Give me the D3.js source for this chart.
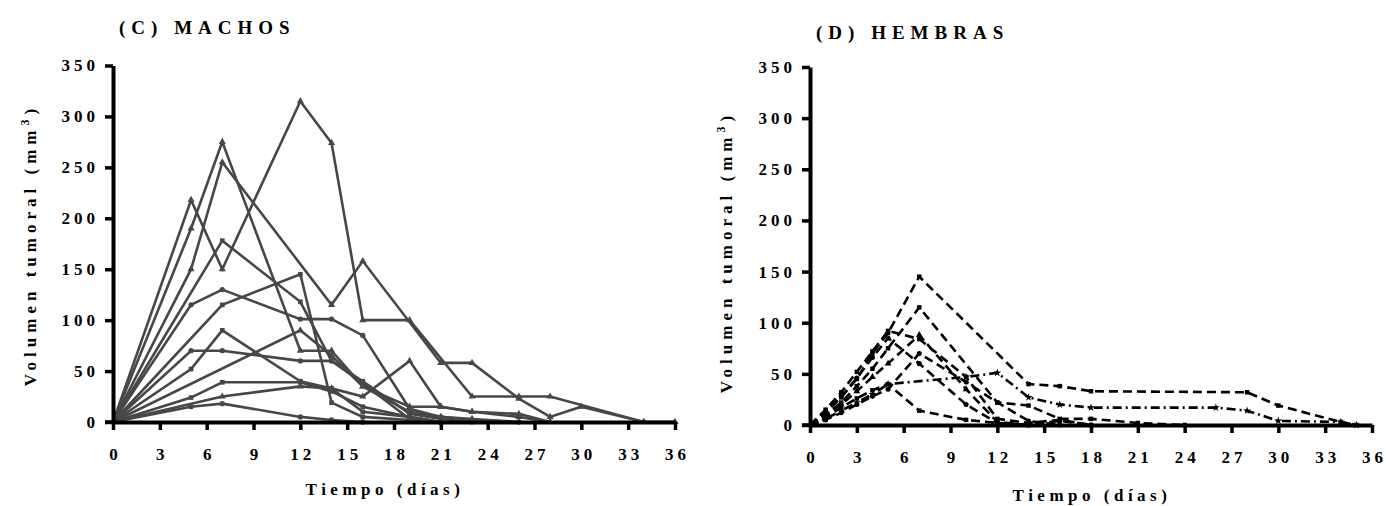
<!DOCTYPE html>
<html>
<head>
<meta charset="utf-8">
<script src="https://cdn.jsdelivr.net/npm/d3@7"></script>
<style>
  html, body { margin: 0; padding: 0; background: #fff; }
  svg { display: block; }
  text { font-family: "Liberation Serif", "Times New Roman", serif; font-weight: bold; fill: #000; }
</style>
</head>
<body>
<svg id="chart" width="1386" height="506"></svg>
<script>
// ---------- DATA ----------
const yTicks = [0, 50, 100, 150, 200, 250, 300, 350];
const xTicks = [0, 3, 6, 9, 12, 15, 18, 21, 24, 27, 30, 33, 36];

// Machos (solid gray lines) – days of measurement
const daysM = [0, 5, 7, 12, 14, 16, 19, 21, 23, 26, 28, 30, 34, 36];
const m01 = [0, 218, 150, 315, 274, 100, 100, null, 25, 25, 25, null, 0, 0];
const m02 = [0, 150, 255, null, 115, 158, null, 58, 58, 23, 5, 15, 0, 0];
const m03 = [0, 190, 275, 70, 70, 35, 10, 5, 3, 0, null, null, null, null];
const m04 = [0, null, 178, 118, 60, 40, 8, 3, 0, null, null, null, null, null];
const m05 = [0, 115, 130, 101, 101, 85, 13, 5, 2, 0, null, null, null, null];
const m06 = [0, null, 115, 145, 19, 5, 2, 0, null, null, null, null, null, null];
const m07 = [0, 70, 70, 60, 60, 38, 3, 0, null, null, null, null, null, null];
const m08 = [0, 52, 90, 40, 33, 10, 5, 0, null, null, null, null, null, null];
const m09 = [0, null, null, 90, 65, 35, 15, 15, 10, 8, 0, null, null, null];
const m10 = [0, 24, 39, 39, 30, 15, 5, 0, null, null, null, null, null, null];
const m11 = [0, 15, 18, 5, 2, 0, null, null, null, null, null, null, null, null];
const m12 = [0, null, 25, 35, 33, 25, 60, 15, 10, 5, 0, null, null, null];

// Hembras (black dashed lines)
const daysH = [0, 1, 2, 3, 4, 5, 7, 10, 12, 14, 16, 18, 21, 24, 26, 28, 30, 34, 35];
const h1 = [0, 12, 27, 45, 70, 90, 145, null, null, 40, 38, 33, null, null, null, 32, 19, 3, 0];
const h2 = [0, 10, 22, 38, 55, 75, 115, null, 22, 19, 6, 6, 2, 0, null, null, null, null, null];
const h3 = [0, 6, 14, 22, 30, 40, null, 47, 51, 27, 20, 17, null, null, 17, 14, 4, 3, 0];
const h4 = [0, 15, 32, 52, 72, 92, 84, 47, 6, 2, 5, 0, null, null, null, null, null, null, null];
const h5 = [0, 13, 28, 46, 66, 85, 60, 20, 2, 0, 4, 0, null, null, null, null, null, null, null];
const h6 = [0, 8, 17, 26, 34, 40, 14, 5, 2, 0, null, null, null, null, null, null, null, null, null];
const h7 = [0, 10, 20, 33, 47, 60, 88, 35, 3, 0, null, null, null, null, null, null, null, null, null];
const h8 = [0, 5, 12, 20, 28, 35, 70, 42, 22, 4, 0, null, null, null, null, null, null, null, null];

const machosSeries = [m01, m02, m03, m04, m05, m06, m07, m08, m09, m10, m11, m12];
const hembrasSeries = [h1, h2, h3, h4, h5, h6, h7, h8];
const hembrasDashDot = [false, false, true, false, false, false, false, false];

// ---------- DRAW ----------
const svg = d3.select("#chart");
const LS_TICK = 4;

function panel(cfg) {
  const x = d3.scaleLinear().domain([0, 36]).range([cfg.x0, cfg.x1]);
  const y = d3.scaleLinear().domain([0, 350]).range([cfg.y0, cfg.y1]);
  const g = svg.append("g");

  // lines
  const line = d3.line()
    .defined(d => d[1] !== null)
    .x(d => x(d[0])).y(d => y(d[1]));
  cfg.series.forEach((vals, i) => {
    const pts = cfg.days.map((d, j) => [d, vals[j]]).filter(p => p[1] !== null);
    const path = g.append("path")
      .datum(pts)
      .attr("d", line)
      .attr("fill", "none")
      .attr("stroke", cfg.color)
      .attr("stroke-width", cfg.width)
      .attr("stroke-linejoin", "miter");
    if (cfg.dash) path.attr("stroke-dasharray", cfg.dashDot && cfg.dashDot[i] ? "9,4,2,4" : cfg.dash);
    const sym = cfg.symbols[i % cfg.symbols.length];
    g.selectAll(null)
      .data(pts.filter(p => p[0] > 0))
      .enter().append("path")
      .attr("transform", p => `translate(${x(p[0])},${y(p[1])})`)
      .attr("d", d3.symbol().type(sym).size(cfg.symSize))
      .attr("fill", cfg.color);
  });

  // axes
  const ax = g.append("g")
    .attr("transform", `translate(0,${cfg.y0})`)
    .call(d3.axisBottom(x).tickValues(xTicks).tickSize(8).tickSizeOuter(0).tickPadding(18));
  const ay = g.append("g")
    .attr("transform", `translate(${cfg.x0},0)`)
    .call(d3.axisLeft(y).tickValues(yTicks).tickSize(8).tickSizeOuter(0).tickPadding(6));
  [ax, ay].forEach(a => {
    a.select(".domain").attr("stroke", "#000").attr("stroke-width", 4);
    a.selectAll(".tick line").attr("stroke", "#000").attr("stroke-width", 3.5);
    a.selectAll(".tick text")
      .style("font-family", "'Liberation Serif', serif")
      .style("font-weight", "bold")
      .style("font-size", "17px")
      .style("letter-spacing", LS_TICK + "px")
      .attr("fill", "#000");
  });
  ax.selectAll(".tick text").attr("dx", LS_TICK / 2);
  // extend x-axis line slightly left to meet y tick
  g.append("line")
    .attr("x1", cfg.x0 - 8).attr("x2", cfg.x0)
    .attr("y1", cfg.y0).attr("y2", cfg.y0)
    .attr("stroke", "#000").attr("stroke-width", 3.5);

  // titles
  svg.append("text")
    .attr("x", cfg.titleX).attr("y", cfg.titleY)
    .style("font-size", "19px").style("letter-spacing", "6px")
    .text(cfg.title);

  svg.append("text")
    .attr("x", cfg.xlabX).attr("y", cfg.xlabY)
    .attr("text-anchor", "middle")
    .style("font-size", "17px").style("letter-spacing", "4.5px")
    .text("Tiempo (días)");

  const yl = svg.append("text")
    .attr("transform", `translate(${cfg.ylabX},${cfg.ylabY}) rotate(-90)`)
    .attr("text-anchor", "middle")
    .style("font-size", "17px").style("letter-spacing", "5px");
  yl.append("tspan").text("Volumen tumoral (mm");
  yl.append("tspan").attr("baseline-shift", "super").style("font-size", "12px").text("3");
  yl.append("tspan").text(")");
}

panel({
  x0: 113, x1: 675, y0: 422, y1: 65.5,
  days: daysM, series: machosSeries,
  color: "#474747", width: 2.6, dash: null,
  symbols: [d3.symbolTriangle, d3.symbolTriangle, d3.symbolTriangle, d3.symbolSquare, d3.symbolCircle, d3.symbolSquare, d3.symbolCircle, d3.symbolSquare, d3.symbolTriangle, d3.symbolSquare, d3.symbolCircle, d3.symbolTriangle],
  symSize: 22,
  title: "(C) MACHOS", titleX: 119, titleY: 34,
  xlabX: 385, xlabY: 495,
  ylabX: 36, ylabY: 245
});

panel({
  x0: 810, x1: 1372, y0: 425, y1: 67,
  days: daysH, series: hembrasSeries,
  color: "#000", width: 2.6, dash: "9,5", dashDot: hembrasDashDot,
  symbols: [d3.symbolSquare, d3.symbolSquare, d3.symbolStar, d3.symbolSquare, d3.symbolCircle, d3.symbolSquare, d3.symbolTriangle, d3.symbolCircle],
  symSize: 20,
  title: "(D) HEMBRAS", titleX: 816, titleY: 39,
  xlabX: 1092, xlabY: 501,
  ylabX: 732, ylabY: 252
});
</script>
</body>
</html>
